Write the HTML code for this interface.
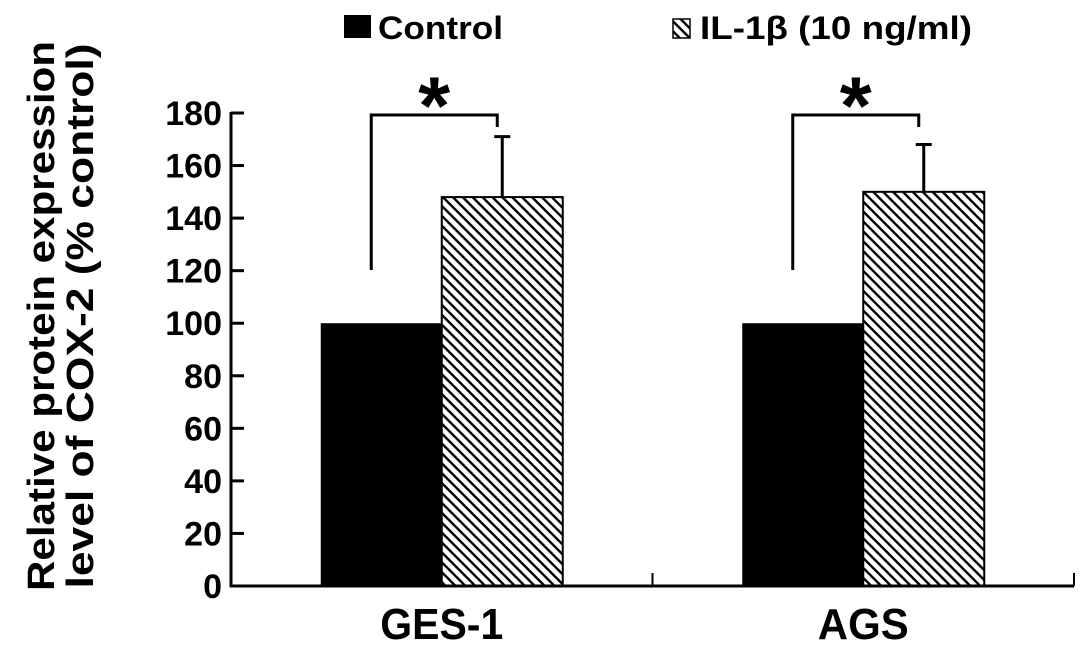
<!DOCTYPE html>
<html><head><meta charset="utf-8"><style>
html,body{margin:0;padding:0;background:#fff;}
svg{display:block;font-family:"Liberation Sans",Arial,sans-serif;font-weight:bold;}
</style></head><body>
<svg id="chart" width="1087" height="646" viewBox="0 0 1087 646">
<defs>
<pattern id="hatch" patternUnits="userSpaceOnUse" width="7" height="7" patternTransform="rotate(45)">
<rect width="7" height="7" fill="#fff"/>
<rect x="0" y="0" width="7" height="2.4" fill="#000"/>
</pattern>
</defs>
<g>
<rect x="344" y="15" width="27" height="23" fill="#000"/>
<text x="378" y="39" font-size="32" textLength="125" lengthAdjust="spacingAndGlyphs">Control</text>
<rect x="673" y="19" width="17" height="19" fill="url(#hatch)" stroke="#000" stroke-width="1.5"/>
<text x="700" y="39" font-size="32" textLength="272" lengthAdjust="spacingAndGlyphs">IL-1β (10 ng/ml)</text>
</g>
<g font-size="38">
<text transform="translate(54,316) rotate(-90)" text-anchor="middle" textLength="550" lengthAdjust="spacingAndGlyphs">Relative protein expression</text>
<text transform="translate(93,316) rotate(-90)" text-anchor="middle" textLength="545" lengthAdjust="spacingAndGlyphs">level of COX-2 (% control)</text>
</g>
<g id="plot"></g>
</svg>
<script>
const categories = ["GES-1", "AGS"];
const controlValues = [100, 100];
const il1bValues = [148, 150];
const il1bErrors = [23, 18];
const yTicks = [0, 20, 40, 60, 80, 100, 120, 140, 160, 180];

const ns = "http://www.w3.org/2000/svg";
const g = document.getElementById("plot");
const X0 = 231, X1 = 1074, Y0 = 586, YTOP = 113, YMAX = 180;
const y = v => Y0 - (v / YMAX) * (Y0 - YTOP);
const groupW = (X1 - X0) / categories.length;
const barW = 121;
const groupCenter = i => X0 + groupW * (i + 0.5);
function mk(tag, attrs) {
  const e = document.createElementNS(ns, tag);
  for (const k in attrs) e.setAttribute(k, attrs[k]);
  g.appendChild(e);
  return e;
}
let ax = mk("line", {x1: X0, y1: YTOP - 1, x2: X0, y2: Y0 + 1, stroke: "#000", "stroke-width": 3});


yTicks.forEach(t => {
  const tk = mk("line", {x1: X0, y1: y(t), x2: X0 + 13, y2: y(t), stroke: "#000", "stroke-width": 3});
  
  
  const lb = mk("text", {x: X0 - 9, y: y(t) + 12, "text-anchor": "end", "font-size": 34});
  lb.textContent = t;
  
  
});
categories.forEach((c, i) => {
  const cx = groupCenter(i);
  const b1 = mk("rect", {x: cx - barW, y: y(controlValues[i]), width: barW, height: Y0 - y(controlValues[i]), fill: "#000"});
  
  
  const b2 = mk("rect", {x: cx, y: y(il1bValues[i]), width: barW, height: Y0 - y(il1bValues[i]), fill: "url(#hatch)", stroke: "#000", "stroke-width": 2});
  
  
  const ex = cx + barW / 2;
  const eTop = y(il1bValues[i] + il1bErrors[i]);
  const e1 = mk("path", {d: `M${ex},${y(il1bValues[i])}V${eTop}M${ex - 8},${eTop}H${ex + 8}`, stroke: "#000", "stroke-width": 3, fill: "none"});
  
  
  const bl = cx - barW / 2 - 10, br = ex - 5;
  const br1 = mk("path", {d: `M${bl},270V115H${br}V127`, stroke: "#000", "stroke-width": 3, fill: "none"});
  
  
  const st = mk("text", {x: (bl + br) / 2, y: 134, "text-anchor": "middle", "font-size": 82});
  st.textContent = "*";
  
  
  const cl = mk("text", {x: cx, y: 639, "text-anchor": "middle", "font-size": 44, textLength: c.length > 3 ? 123 : 91, lengthAdjust: "spacingAndGlyphs"});
  cl.textContent = c;
  
  
  const xt = mk("line", {x1: X0 + groupW * (i + 1), y1: Y0, x2: X0 + groupW * (i + 1), y2: Y0 - 13, stroke: "#000", "stroke-width": 2});
  
  
});
let xa = mk("line", {x1: X0 - 1, y1: Y0, x2: X1, y2: Y0, stroke: "#000", "stroke-width": 3});


</script>
</body></html>
